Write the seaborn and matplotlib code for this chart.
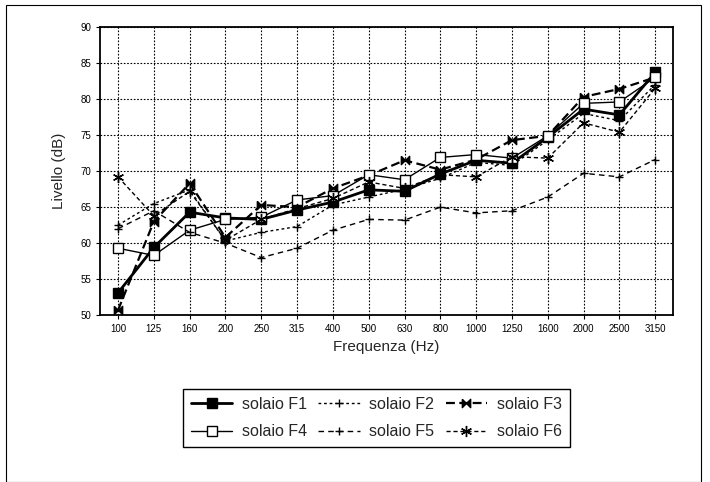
import seaborn as sns
import numpy as np
import pandas as pd
from matplotlib import pyplot as plt
from matplotlib.patches import Rectangle

freqs = ["100", "125", "160", "200", "250", "315", "400", "500",
         "630", "800", "1000", "1250", "1600", "2000", "2500", "3150"]

f1 = [53.1, 59.4, 64.3, 63.5, 63.3, 64.6, 65.7, 67.4, 67.2, 69.6, 71.5, 71.1, 74.7, 78.6, 77.8, 83.7]
f2 = [62.5, 65.5, 67.4, 60.3, 61.5, 62.3, 65.3, 66.4, 67.5, 69.0, 71.2, 70.8, 74.3, 78.0, 77.0, 82.0]
f3 = [50.7, 63.0, 68.3, 60.8, 65.3, 65.0, 67.6, 69.4, 71.5, 70.2, 71.6, 74.3, 74.9, 80.3, 81.4, 83.0]
f4 = [59.3, 58.3, 61.8, 63.3, 63.6, 66.0, 66.6, 69.5, 68.8, 71.9, 72.3, 71.8, 74.9, 79.4, 79.6, 83.0]
f5 = [62.0, 64.5, 61.5, 60.0, 58.0, 59.3, 61.8, 63.3, 63.2, 65.0, 64.2, 64.5, 66.4, 69.7, 69.2, 71.6]
f6 = [69.2, 63.8, 67.2, 60.4, 63.3, 64.8, 66.2, 68.5, 67.6, 69.5, 69.2, 72.0, 71.8, 76.7, 75.4, 81.5]

names = ["solaio F1", "solaio F2", "solaio F3", "solaio F4", "solaio F5", "solaio F6"]
series = [f1, f2, f3, f4, f5, f6]

bowtie = [(-1, 1), (0, 0), (1, 1), (1, -1), (0, 0), (-1, -1), (-1, 1)]
styles = [
    dict(marker="s", markersize=7, mfc="black", lw=2.0, ls="-"),
    dict(marker="+", markersize=6, mfc="black", lw=1.0, ls=(0, (2, 2))),
    dict(marker=bowtie, markersize=6, mfc="black", lw=1.6, ls=(0, (4, 2))),
    dict(marker="s", markersize=7, mfc="white", lw=1.0, ls="-"),
    dict(marker="+", markersize=6, mfc="black", lw=1.0, ls=(0, (4, 3))),
    dict(marker=(6, 2, 0), markersize=8, mfc="black", lw=1.0, ls=(0, (3, 2))),
]

sns.set_style("ticks")
plt.rcParams['font.family'] = ['Liberation Sans', 'DejaVu Sans']

fig = plt.figure(figsize=(7.1, 4.82), dpi=100)
ax = fig.add_axes([0.141, 0.346, 0.807, 0.598])

for name, vals, st in zip(names, series, styles):
    sns.lineplot(x=freqs, y=vals, ax=ax, color="black", label=name,
                 sort=False, markeredgecolor="black", markeredgewidth=1.0,
                 **st)

ax.set_xlim(-0.5, len(freqs) - 0.5)
ax.set_ylim(50, 90)
ax.set_yticks(np.arange(50, 91, 5))
ax.grid(True, color="black", ls=(0, (1.5, 1.5)), lw=0.8)
for s in ax.spines.values():
    s.set_linewidth(1.3)
    s.set_color("black")
ax.tick_params(labelsize=7, length=3, color="black", labelcolor="black")
ax.set_xlabel("Frequenza (Hz)", fontsize=11, labelpad=4)
ax.set_ylabel("Livello (dB)", fontsize=11, labelpad=10)

# legend fills column-wise, so reorder to get F1 F2 F3 on the first row
handles, labels = ax.get_legend_handles_labels()
ax.get_legend().remove()
order = [0, 3, 1, 4, 2, 5]
fig.legend([handles[i] for i in order], [labels[i] for i in order],
           ncol=3, loc="center", bbox_to_anchor=(0.53, 0.133),
           fontsize=11.5, frameon=True, fancybox=False, edgecolor="black",
           handlelength=2.6, handletextpad=0.6, columnspacing=0.7,
           labelspacing=0.8, borderpad=0.5, framealpha=1)

fig.patches.append(Rectangle((0.008, 0.0), 0.98, 0.99, transform=fig.transFigure,
                             fill=False, edgecolor="black", lw=0.8))

plt.savefig("out.png", dpi=100)
plt.close()
